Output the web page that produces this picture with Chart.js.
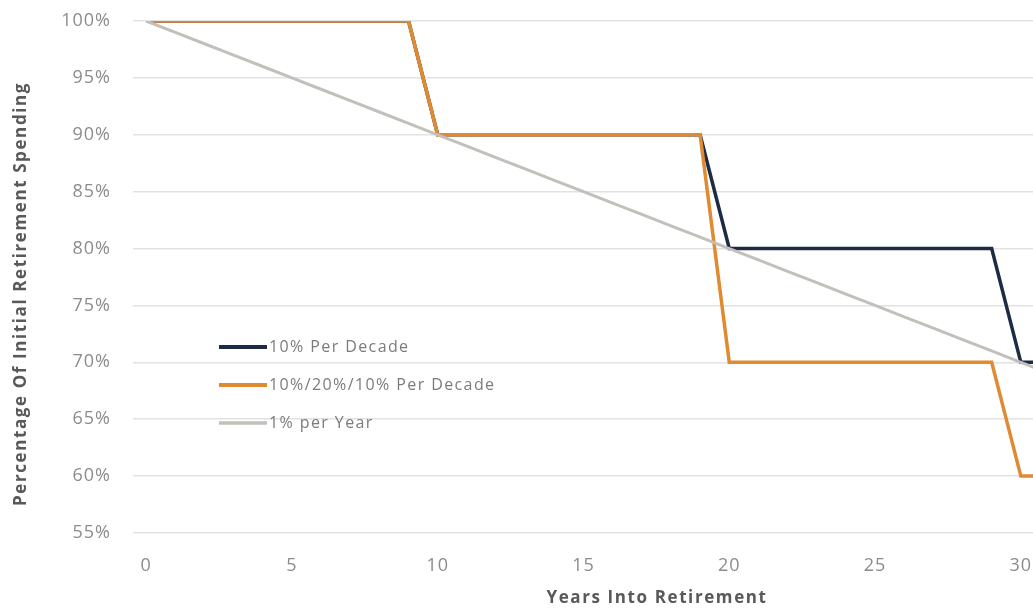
<!DOCTYPE html>
<html>
<head>
<meta charset="utf-8">
<script src="https://cdn.jsdelivr.net/npm/chart.js@4/dist/chart.umd.min.js"></script>
<style>
  html, body { margin: 0; padding: 0; background: #ffffff; overflow: hidden; }
  #wrap { position: absolute; left: 0; top: 0; width: 1056px; height: 609px; }
</style>
</head>
<body>
<div id="wrap"><canvas id="c" width="1056" height="609"></canvas></div>
<script>
// Years into retirement
const years = [0, 1, 2, 3, 4, 5, 6, 7, 8, 9, 10, 11, 12, 13, 14, 15, 16, 17, 18, 19, 20,
               21, 22, 23, 24, 25, 26, 27, 28, 29, 30, 31];

// Spending as a percentage of the initial level
const tenPerDecade = [100, 100, 100, 100, 100, 100, 100, 100, 100, 100,
                      90, 90, 90, 90, 90, 90, 90, 90, 90, 90,
                      80, 80, 80, 80, 80, 80, 80, 80, 80, 80,
                      70, 70];
const tenTwentyTen = [100, 100, 100, 100, 100, 100, 100, 100, 100, 100,
                      90, 90, 90, 90, 90, 90, 90, 90, 90, 90,
                      70, 70, 70, 70, 70, 70, 70, 70, 70, 70,
                      60, 60];
const onePerYear = [100, 99, 98, 97, 96, 95, 94, 93, 92, 91,
                    90, 89, 88, 87, 86, 85, 84, 83, 82, 81,
                    80, 79, 78, 77, 76, 75, 74, 73, 72, 71,
                    70, 69];

const seriesNames = ['10% Per Decade', '10%/20%/10% Per Decade', '1% per Year'];
const xTicks = [0, 5, 10, 15, 20, 25, 30];
const yTicks = [55, 60, 65, 70, 75, 80, 85, 90, 95, 100];

const xTitle = 'Years Into Retirement';
const yTitle = 'Percentage Of Initial Retirement Spending';

const toPoints = vals => years.map((y, i) => ({ x: y, y: vals[i] }));

const FONT = "'Open Sans', sans-serif";

// Slightly tracked-out text for the tick labels
const textSpacing = {
  id: 'textSpacing',
  beforeDraw(chart, args, opts) {
    if ('letterSpacing' in chart.ctx) chart.ctx.letterSpacing = opts.spacing;
  }
};

// Legend drawn inside the plot area, lower left
const insideLegend = {
  id: 'insideLegend',
  afterDatasetsDraw(chart, args, opts) {
    const ctx = chart.ctx;
    ctx.save();
    [0, 1, 2].forEach((idx, row) => {
      const ds = chart.data.datasets.find(d => d.legendIndex === idx);
      const y = opts.y + row * opts.rowGap;
      ctx.strokeStyle = ds.borderColor;
      ctx.lineWidth = ds.borderWidth + 0.5;
      ctx.lineCap = 'butt';
      ctx.beginPath();
      ctx.moveTo(opts.x, y);
      ctx.lineTo(opts.x + opts.lineLen, y);
      ctx.stroke();
      ctx.fillStyle = opts.color;
      ctx.font = opts.font;
      if ('letterSpacing' in ctx) ctx.letterSpacing = opts.letterSpacing;
      ctx.textBaseline = 'middle';
      ctx.textAlign = 'left';
      ctx.fillText(ds.label, opts.x + opts.lineLen + 2, y);
    });
    ctx.restore();
  }
};

// Axis titles
const axisTitles = {
  id: 'axisTitles',
  afterDraw(chart, args, opts) {
    const ctx = chart.ctx;
    ctx.save();
    ctx.fillStyle = opts.color;
    ctx.font = opts.font;
    if ('letterSpacing' in ctx) ctx.letterSpacing = opts.letterSpacing;
    ctx.textAlign = 'center';
    ctx.textBaseline = 'middle';
    ctx.fillText(opts.x.text, opts.x.cx, opts.x.cy);
    ctx.translate(opts.y.cx, opts.y.cy);
    ctx.rotate(-Math.PI / 2);
    ctx.fillText(opts.y.text, 0, 0);
    ctx.restore();
  }
};

new Chart(document.getElementById('c'), {
  type: 'line',
  data: {
    datasets: [
      {
        label: seriesNames[0], legendIndex: 0, order: 3,
        data: toPoints(tenPerDecade),
        borderColor: '#1e2b45', borderWidth: 3.5
      },
      {
        label: seriesNames[1], legendIndex: 1, order: 2,
        data: toPoints(tenTwentyTen),
        borderColor: '#e08a32', borderWidth: 3.5
      },
      {
        label: seriesNames[2], legendIndex: 2, order: 1,
        data: toPoints(onePerYear),
        borderColor: '#c3c0bb', borderWidth: 3
      }
    ]
  },
  options: {
    responsive: false,
    animation: false,
    events: [],
    layout: { padding: { top: 21, right: 6, bottom: 0, left: 0 } },
    elements: {
      point: { radius: 0 },
      line: { tension: 0, borderJoinStyle: 'miter', borderCapStyle: 'butt' }
    },
    plugins: {
      legend: { display: false },
      tooltip: { enabled: false },
      textSpacing: { spacing: '1px' },
      insideLegend: {
        x: 219, y: 347, rowGap: 38, lineLen: 48,
        color: '#7c7c7c', font: "16px " + FONT, letterSpacing: '1.4px'
      },
      axisTitles: {
        color: '#595959', font: "bold 17px " + FONT, letterSpacing: '1.6px',
        x: { text: xTitle, cx: 657, cy: 598 },
        y: { text: yTitle, cx: 21, cy: 294 }
      }
    },
    scales: {
      x: {
        type: 'linear',
        min: -0.45,
        max: 31,
        grid: { display: false },
        border: { display: false },
        afterBuildTicks(scale) { scale.ticks = xTicks.map(v => ({ value: v })); },
        afterFit(scale) {
          scale.height = 76;
          scale.paddingLeft = 0;
          scale.paddingRight = 0;
        },
        ticks: {
          color: '#8c8c8c',
          font: { family: FONT, size: 18 },
          padding: 14,
          maxRotation: 0,
          autoSkip: false
        }
      },
      y: {
        min: 55,
        max: 100,
        grid: { color: '#e2e2e2', lineWidth: 1.5, drawTicks: false },
        border: { display: false },
        afterBuildTicks(scale) { scale.ticks = yTicks.map(v => ({ value: v })); },
        afterFit(scale) {
          scale.width = 133;
          scale.paddingTop = 0;
          scale.paddingBottom = 0;
        },
        ticks: {
          color: '#8c8c8c',
          font: { family: FONT, size: 18 },
          padding: 22,
          callback: v => v + '%'
        }
      }
    }
  },
  plugins: [textSpacing, insideLegend, axisTitles]
});
</script>
</body>
</html>
